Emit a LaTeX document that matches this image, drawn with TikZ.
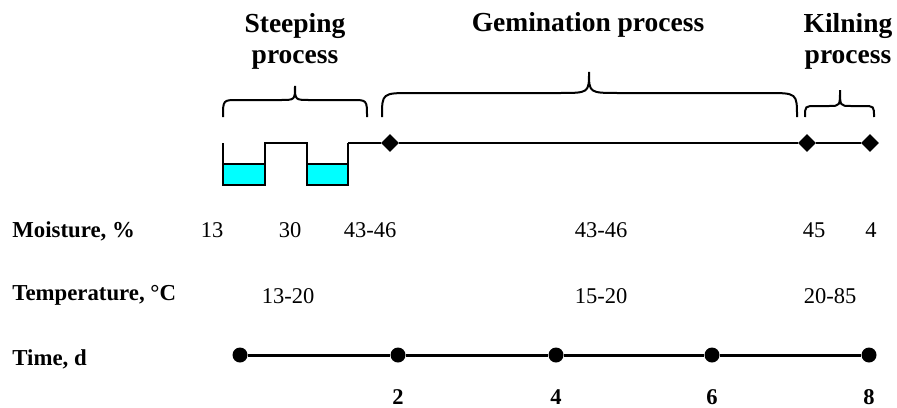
\documentclass[tikz,border=0pt]{standalone}
\usepackage{fontspec}
\setmainfont{Liberation Serif}
\usetikzlibrary{shapes.geometric}

\definecolor{tankblue}{RGB}{0,255,255}

\tikzset{
  head/.style={font=\fontsize{13.75}{15.5}\selectfont\bfseries, align=center},
  rowlabel/.style={font=\fontsize{11.4}{13}\selectfont\bfseries, anchor=base west, inner sep=0pt},
  val/.style={font=\fontsize{11.25}{13}\selectfont, anchor=base, inner sep=0pt},
  daylabel/.style={font=\fontsize{11.25}{13}\selectfont\bfseries, anchor=base, inner sep=0pt},
  dot/.style={circle, fill, inner sep=0pt, minimum size=7.5pt},
  dmd/.style={diamond, fill, inner sep=0pt, minimum size=9pt},
  water/.style={fill=tankblue, draw=black, line width=1pt},
}

% #1 left end, #2 right end, #3 tip x, #4 top line y, #5 tip y, #6 curl
\newcommand{\procbrace}[6]{%
  \draw[line width=1pt] (#1,117) .. controls (#1,#4) .. (#1+#6,#4) -- (#3-#6,#4)
    .. controls (#3,#4) .. (#3,#5) .. controls (#3,#4) .. (#3+#6,#4)
    -- (#2-#6,#4) .. controls (#2,#4) .. (#2,117);}

\begin{document}
\begin{tikzpicture}[x=0.5pt,y=-0.5pt]
        \useasboundingbox (0,0) rectangle (897,407);

        % process headings and braces
        \node[head] (steep) at (295,41) {Steeping\\process};
        \node[head,anchor=base] (germ) at (588,32) {Gemination process};
        \node[head] (kiln) at (848,41) {Kilning\\process};

        \procbrace{223}{367}{295}{100}{86}{15}
        \procbrace{382}{797}{589}{93}{72}{30}
        \procbrace{805}{874}{840}{106}{90}{11}

        % steeping tanks
        \draw[water] (223,164) rectangle (265,185);
        \draw[water] (307,164) rectangle (348,185);
        \coordinate (bk) at (348,143);
        \draw[line width=1pt]
        (223,143) -- (223,185) -- (265,185) -- (265,143) -- (307,143)
        -- (307,185) -- (348,185) -- (bk);

        % germination and kilning line
        \node[dmd] (g1) at (390,143) {};
        \node[dmd] (g2) at (807,143) {};
        \node[dmd] (g3) at (870,143) {};
        \draw[line width=1.3pt] (bk) -- (g1) -- (g2) -- (g3);

        % rows
        \node[rowlabel] (moist) at (12,237) {Moisture, \%};
        \node[rowlabel] (temp) at (12,300) {Temperature, °C};
        \node[rowlabel] (time) at (12,365) {Time, d};

        \node[val] (m1) at (212,237) {13};
        \node[val] (m2) at (290,237) {30};
        \node[val] (m3) at (370,237) {43-46};
        \node[val] (m4) at (601,237) {43-46};
        \node[val] (m5) at (814,237) {45};
        \node[val] (m6) at (871,237) {4};

        \node[val] (c1) at (288,303) {13-20};
        \node[val] (c2) at (601,303) {15-20};
        \node[val] (c3) at (830,303) {20-85};

        % time axis
        \node[dot] (t0) at (240,355) {};
        \node[dot] (t1) at (398,355) {};
        \node[dot] (t2) at (556,355) {};
        \node[dot] (t3) at (712,355) {};
        \node[dot] (t4) at (869,355) {};
        \draw[line width=1.5pt] (t0) -- (t1) -- (t2) -- (t3) -- (t4);

        \node[daylabel] (d2) at (398,404) {2};
        \node[daylabel] (d4) at (556,404) {4};
        \node[daylabel] (d6) at (712,404) {6};
        \node[daylabel] (d8) at (869,404) {8};
    \end{tikzpicture}
\end{document}
